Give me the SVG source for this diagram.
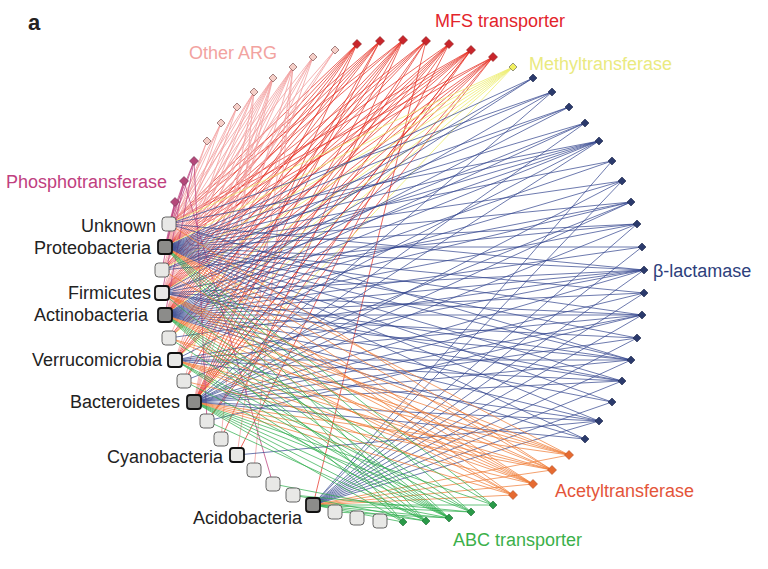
<svg xmlns="http://www.w3.org/2000/svg" width="768" height="569" viewBox="0 0 768 569">
<style>
.e{fill:none;stroke-width:0.8;stroke-linecap:round}
.er{stroke:#e62e22;stroke-opacity:0.9}
.ep{stroke:#f2a0a0}
.em{stroke:#c04a84}
.ey{stroke:#eeee70}
.eb{stroke:#34458e;stroke-opacity:0.9}
.eo{stroke:#f07a34;stroke-opacity:0.9}
.eg{stroke:#2eae4c;stroke-opacity:0.9}
.sq{stroke-width:0.9;stroke:#555}
.lt{fill:#e8e8e6}
.dk{fill:#8c8c8a}
.lb{stroke:#111;stroke-width:1.8}
.d{stroke-width:0.6}
.dr{fill:#c9252b;stroke:#8a1a1a}
.dp{fill:#f5cfc8;stroke:#6a3a3a}
.dm{fill:#b4487a;stroke:#6a2a4a}
.dy{fill:#f2f060;stroke:#555}
.db{fill:#2b3a6c;stroke:#1a2448}
.do{fill:#e66a30;stroke:#b04a20}
.dg{fill:#2a9a48;stroke:#1a6a30}
text{font-family:"Liberation Sans",Arial,sans-serif;font-size:18px}
.tx{fill:#222}
</style>
<rect width="768" height="569" fill="#fff"/>
<g id="connectors">
<path class="e er" d="M165 247L357 44M165 247L426 41M165 247L449 44M165 247L493 57M165 315L357 44M165 315L380 41M165 315L403 40M165 315L426 41M165 315L449 44M165 315L493 57M162 293L357 44M162 293L380 41M162 293L403 40M162 293L426 41M162 293L449 44M162 293L471 50M162 293L493 57M169 224L357 44M169 224L380 41M169 224L403 40M169 224L471 50M169 224L493 57M162 270L357 44M162 270L380 41M162 270L471 50M162 270L426 41M194 402L357 44M194 402L380 41M194 402L403 40M194 402L426 41M194 402L449 44M194 402L471 50M194 402L493 57M175 360L357 44M175 360L403 40M175 360L449 44M175 360L471 50M175 360L493 57M169 338L403 40M169 338L493 57M169 338L449 44M184 381L426 41M184 381L380 41M313 505L426 41M237 455L449 44M207 421L471 50M207 421L493 57M221 439L403 40"/>
<path class="e er" stroke-width="2.4" stroke="#e01e1e" d="M165 247L403 40M165 247L471 50"/>
<path class="e er" stroke-width="1.5" d="M165 315L471 50M165 247L380 41M194 402L471 50"/>
<path class="e ep" d="M207 141L165 247M207 141L162 270M221 123L165 247M221 123L169 224M221 123L162 293M237 107L165 247M237 107L165 315M237 107L162 270M254 92L165 247M254 92L165 315M254 92L162 293M254 92L194 402M254 92L169 224M254 92L221 439M273 78L165 247M273 78L165 315M273 78L162 293M273 78L194 402M273 78L169 224M273 78L162 270M273 78L175 360M273 78L184 381M293 67L165 247M293 67L165 315M293 67L162 293M293 67L194 402M293 67L162 270M293 67L169 338M293 67L237 455M293 67L254 470M313 57L165 247M313 57L165 315M313 57L194 402M313 57L162 293M313 57L175 360M335 50L165 247M335 50L165 315M335 50L162 293"/>
<path class="e em" d="M175 202L165 247M175 202L169 224M175 202L162 270M184 181L165 247M184 181L169 224M184 181L162 293M194 161L165 247M194 161L169 224M194 161L165 315M194 161L207 421M184 181L273 484"/>
<path class="e ey" d="M513 67L165 247M513 67L169 224M513 67L162 270M513 67L162 293M513 67L165 315M513 67L194 402M513 67L175 360M513 67L169 338"/>
<path class="e eb" d="M533 78L165 247M533 78L165 315M533 78L162 293M552 92L165 247M552 92L165 315M552 92L194 402M552 92L169 224M569 107L165 247M569 107L165 315M569 107L162 270M585 123L165 247M585 123L165 315M585 123L162 293M585 123L194 402M599 141L165 247M599 141L165 315M599 141L194 402M599 141L162 293M599 141L175 360M599 141L169 224M599 141L162 270M612 161L165 247M612 161L165 315M612 161L313 505M622 181L165 247M622 181L165 315M622 181L194 402M622 181L313 505M631 202L165 247M631 202L165 315M631 202L162 293M631 202L194 402M631 202L184 381M637 224L165 247M637 224L165 315M637 224L194 402M637 224L313 505M637 224L162 270M642 247L165 247M642 247L165 315M642 247L313 505M644 270L165 247M644 270L165 315M644 270L194 402M644 270L162 293M644 270L175 360M644 270L169 224M644 270L313 505M644 270L169 338M644 293L165 247M644 293L165 315M644 293L194 402M644 293L313 505M642 315L165 247M642 315L165 315M642 315L194 402M642 315L162 293M642 315L175 360M642 315L313 505M642 315L207 421M637 338L165 247M637 338L165 315M637 338L194 402M637 338L313 505M631 360L165 247M631 360L165 315M631 360L194 402M631 360L162 293M631 360L175 360M631 360L313 505M631 360L169 224M622 381L165 247M622 381L165 315M622 381L194 402M622 381L162 293M622 381L175 360M622 381L313 505M612 402L165 247M612 402L165 315M612 402L313 505M599 421L165 247M599 421L165 315M599 421L194 402M599 421L175 360M599 421L313 505M599 421L237 455M585 439L165 247M585 439L165 315M585 439L194 402"/>
<path class="e eo" d="M569 455L165 247M569 455L165 315M569 455L194 402M569 455L162 293M569 455L175 360M569 455L169 338M569 455L313 505M552 470L165 247M552 470L165 315M552 470L194 402M552 470L162 293M552 470L175 360M552 470L169 224M552 470L313 505M552 470L184 381M533 484L165 247M533 484L165 315M533 484L194 402M533 484L162 293M533 484L175 360M533 484L162 270M533 484L313 505M533 484L169 338M513 495L165 247M513 495L165 315M513 495L194 402M513 495L175 360M513 495L313 505M513 495L162 293"/>
<path class="e eg" d="M493 505L165 247M493 505L165 315M493 505L194 402M493 505L313 505M471 512L165 247M471 512L165 315M471 512L194 402M471 512L175 360M471 512L313 505M471 512L293 495M449 518L165 247M449 518L165 315M449 518L194 402M449 518L162 293M449 518L175 360M449 518L313 505M449 518L184 381M449 518L169 338M449 518L273 484M449 518L335 512M426 521L165 247M426 521L165 315M426 521L194 402M426 521L175 360M426 521L313 505M426 521L293 495M426 521L207 421M403 522L165 247M403 522L165 315M403 522L313 505M403 522L194 402"/>
</g>
<g id="args">
<g id="mfs" class="d dr">
<path d="M357 39.5l4.5 4.5-4.5 4.5-4.5-4.5z"/><path d="M380 36.5l4.5 4.5-4.5 4.5-4.5-4.5z"/><path d="M403 35.5l4.5 4.5-4.5 4.5-4.5-4.5z"/><path d="M426 36.5l4.5 4.5-4.5 4.5-4.5-4.5z"/><path d="M449 39.5l4.5 4.5-4.5 4.5-4.5-4.5z"/><path d="M471 45.5l4.5 4.5-4.5 4.5-4.5-4.5z"/><path d="M493 52.5l4.5 4.5-4.5 4.5-4.5-4.5z"/>
</g>
<g id="methyl" class="d dy"><path d="M513 63l4 4-4 4-4-4z"/></g>
<g id="blactamase" class="d db">
<path d="M533 74l4 4-4 4-4-4z"/><path d="M552 88l4 4-4 4-4-4z"/><path d="M569 103l4 4-4 4-4-4z"/><path d="M585 119l4 4-4 4-4-4z"/><path d="M599 137l4 4-4 4-4-4z"/><path d="M612 157l4 4-4 4-4-4z"/><path d="M622 177l4 4-4 4-4-4z"/><path d="M631 198l4 4-4 4-4-4z"/><path d="M637 220l4 4-4 4-4-4z"/><path d="M642 243l4 4-4 4-4-4z"/><path d="M644 266l4 4-4 4-4-4z"/><path d="M644 289l4 4-4 4-4-4z"/><path d="M642 311l4 4-4 4-4-4z"/><path d="M637 334l4 4-4 4-4-4z"/><path d="M631 356l4 4-4 4-4-4z"/><path d="M622 377l4 4-4 4-4-4z"/><path d="M612 398l4 4-4 4-4-4z"/><path d="M599 417l4 4-4 4-4-4z"/><path d="M585 435l4 4-4 4-4-4z"/>
</g>
<g id="acetyl" class="d do">
<path d="M569 450.5l4.5 4.5-4.5 4.5-4.5-4.5z"/><path d="M552 465.5l4.5 4.5-4.5 4.5-4.5-4.5z"/><path d="M533 479.5l4.5 4.5-4.5 4.5-4.5-4.5z"/><path d="M513 490.5l4.5 4.5-4.5 4.5-4.5-4.5z"/>
</g>
<g id="abc" class="d dg">
<path d="M493 501l4 4-4 4-4-4z"/><path d="M471 508l4 4-4 4-4-4z"/><path d="M449 514l4 4-4 4-4-4z"/><path d="M426 517l4 4-4 4-4-4z"/><path d="M403 518l4 4-4 4-4-4z"/>
</g>
<g id="phospho" class="d dm">
<path d="M175 197.5l4.5 4.5-4.5 4.5-4.5-4.5z"/><path d="M184 176.5l4.5 4.5-4.5 4.5-4.5-4.5z"/><path d="M194 156.5l4.5 4.5-4.5 4.5-4.5-4.5z"/>
</g>
<g id="other" class="d dp">
<path d="M207 137l4 4-4 4-4-4z"/><path d="M221 119l4 4-4 4-4-4z"/><path d="M237 103l4 4-4 4-4-4z"/><path d="M254 88l4 4-4 4-4-4z"/><path d="M273 74l4 4-4 4-4-4z"/><path d="M293 63l4 4-4 4-4-4z"/><path d="M313 53l4 4-4 4-4-4z"/><path d="M335 46l4 4-4 4-4-4z"/>
</g>
</g>
<g id="taxa">
<g id="n-unknown"><rect class="sq lt" x="162" y="217" width="14" height="14" rx="3.5" stroke="#666" stroke-width="1.2"/></g>
<g id="n-proteobacteria"><rect class="sq dk lb" x="158" y="240" width="14" height="14" rx="3"/></g>
<g id="n-s50"><rect class="sq lt" x="155" y="263" width="14" height="14" rx="3.5"/></g>
<g id="n-firmicutes"><rect class="sq lt lb" x="155" y="286" width="14" height="14" rx="3"/></g>
<g id="n-actinobacteria"><rect class="sq dk lb" x="158" y="308" width="14" height="14" rx="3"/></g>
<g id="n-s47"><rect class="sq lt" x="162" y="331" width="14" height="14" rx="3.5"/></g>
<g id="n-verrucomicrobia"><rect class="sq lt lb" x="168" y="353" width="14" height="14" rx="3"/></g>
<g id="n-s45"><rect class="sq lt" x="177" y="374" width="14" height="14" rx="3.5"/></g>
<g id="n-bacteroidetes"><rect class="sq dk lb" x="187" y="395" width="14" height="14" rx="3"/></g>
<g id="n-s43"><rect class="sq lt" x="200" y="414" width="14" height="14" rx="3.5"/></g>
<g id="n-s42"><rect class="sq lt" x="214" y="432" width="14" height="14" rx="3.5"/></g>
<g id="n-cyanobacteria"><rect class="sq lt lb" x="230" y="448" width="14" height="14" rx="3"/></g>
<g id="n-s40"><rect class="sq lt" x="247" y="463" width="14" height="14" rx="3.5"/></g>
<g id="n-s39"><rect class="sq lt" x="266" y="477" width="14" height="14" rx="3.5"/></g>
<g id="n-s38"><rect class="sq lt" x="286" y="488" width="14" height="14" rx="3.5"/></g>
<g id="n-acidobacteria"><rect class="sq dk lb" x="306" y="498" width="14" height="14" rx="3"/></g>
<g id="n-s36"><rect class="sq lt" x="328" y="505" width="14" height="14" rx="3.5"/></g>
<g id="n-s35"><rect class="sq lt" x="350" y="511" width="14" height="14" rx="3.5"/></g>
<g id="n-s34"><rect class="sq lt" x="373" y="514" width="14" height="14" rx="3.5"/></g>
</g>
<g id="labels">
<text x="28" y="30" style="font-size:22px;font-weight:bold" fill="#222">a</text>
<text class="tx" x="156" y="232" text-anchor="end">Unknown</text>
<text class="tx" x="151" y="254" text-anchor="end">Proteobacteria</text>
<text class="tx" x="151" y="299" text-anchor="end">Firmicutes</text>
<text class="tx" x="148" y="321" text-anchor="end">Actinobacteria</text>
<text class="tx" x="162" y="366" text-anchor="end">Verrucomicrobia</text>
<text class="tx" x="180" y="408" text-anchor="end">Bacteroidetes</text>
<text class="tx" x="223" y="463" text-anchor="end">Cyanobacteria</text>
<text class="tx" x="302" y="524" text-anchor="end">Acidobacteria</text>
<text x="6" y="188" fill="#c0407f">Phosphotransferase</text>
<text x="189" y="59" fill="#f2a3a0">Other ARG</text>
<text x="435" y="27" fill="#e3242b">MFS transporter</text>
<text x="529" y="70" fill="#eaea80">Methyltransferase</text>
<text x="653" y="277" fill="#2e3f7c">β-lactamase</text>
<text x="555" y="497" fill="#e4553a">Acetyltransferase</text>
<text x="453" y="546" fill="#3bb04a">ABC transporter</text>
</g>
</svg>
